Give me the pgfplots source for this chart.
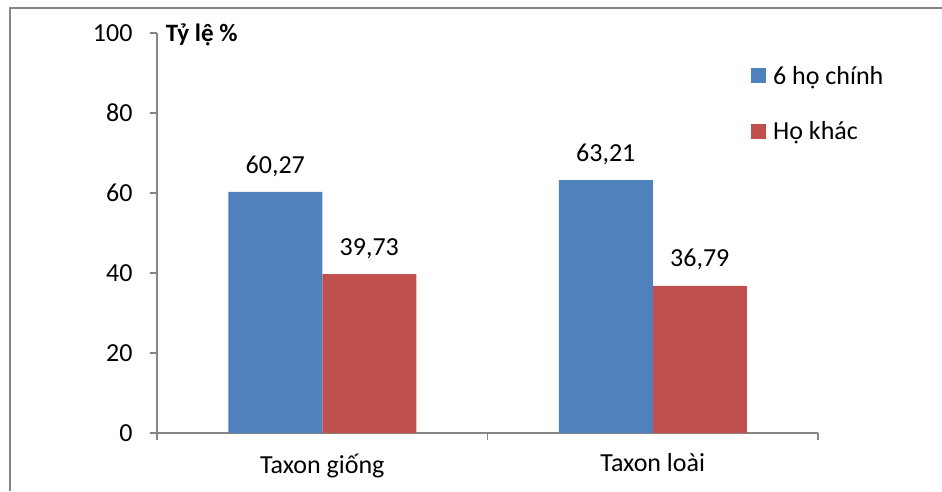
\documentclass[border=0pt]{standalone}
\usepackage{fontspec}
\setmainfont{Carlito}
\usepackage{pgfplots}
\pgfplotsset{compat=1.18}
\definecolor{cblue}{HTML}{4F81BD}
\definecolor{cred}{HTML}{C0504D}
\definecolor{agray}{HTML}{868686}
\begin{document}
\begin{tikzpicture}[x=1pt,y=1pt]
\useasboundingbox (0,0) rectangle (942,491);
\draw[agray,line width=2pt] (10,0) -- (10,483) -- (942,483);
\begin{axis}[
  at={(157pt,58pt)}, anchor=south west,
  scale only axis, width=661pt, height=400pt,
  ymin=0, ymax=100, ytick={0,20,40,60,80,100},
  xmin=-0.5, xmax=1.5,
  xtick={0,1}, xticklabels={Taxon giống, Taxon loài},
  minor xtick={-0.5,0.5,1.5},
  major x tick style={draw=none},
  axis x line*=bottom, axis y line*=left,
  axis line style={agray, line width=1.3pt, -},
  tick style={agray, line width=1.3pt},
  tick align=outside,
  major tick length=7pt, minor tick length=7pt,
  ybar=0pt, bar width=94pt,
  font=\fontsize{26}{31}\selectfont,
  /pgf/number format/assume math mode=true,
  yticklabel style={xshift=-14pt},
  xticklabel style={yshift=-10pt},
  nodes near coords,
  nodes near coords style={font=\fontsize{26}{31}\selectfont, yshift=12pt,
    /pgf/number format/.cd, fixed, fixed zerofill, precision=2, use comma},
  legend style={draw=none, fill=none, at={(axis description cs:0.8986,0.9225)}, anchor=north west,
    font=\fontsize{26}{31}\selectfont, row sep=32pt, inner sep=0pt, nodes={inner sep=2pt}},
  legend cell align=left,
  legend image code/.code={\fill[#1] (0pt,-7.5pt) rectangle (15pt,7.5pt); \path (20pt,0pt);},
  clip=false,
]
\addplot[fill=cblue, draw=none] coordinates {(0,60.27) (1,63.21)};
\addplot[fill=cred, draw=none] coordinates {(0,39.73) (1,36.79)};
\legend{6 họ chính, Họ khác}
\node[anchor=west, font=\fontsize{25}{30}\selectfont\bfseries] at (axis description cs:0.008,0.995) {Tỷ lệ \%};
\end{axis}
\end{tikzpicture}
\end{document}
